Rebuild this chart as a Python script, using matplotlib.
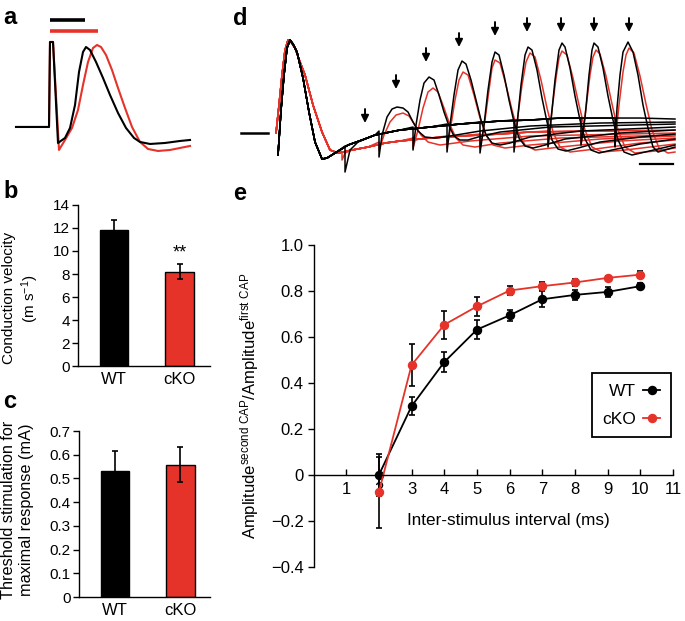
import matplotlib.pyplot as plt
from matplotlib.lines import Line2D

plt.rcParams['font.family'] = ['Liberation Sans', 'DejaVu Sans']
plt.rcParams['mathtext.default'] = 'regular'
plt.rcParams['axes.linewidth'] = 1.0

RED = '#e5332a'

# ---- panel a: single CAP traces (x: samples from stimulus, y: a.u.)
a_wt_x = [-33, 0, 1, 4, 9, 16, 21, 26, 30, 34, 37, 41, 47, 54, 61, 69, 77, 85, 91, 101, 116, 131, 141]
a_wt_y = [0, 0, 85, 85, -16, -11, -1, 22, 55, 75, 80, 77, 65, 49, 32, 14, -1, -11, -15, -17, -16, -14, -13]
a_ko_x = [-33, 0, 1, 4, 10, 16, 23, 29, 34, 39, 44, 48, 52, 57, 63, 69, 76, 83, 91, 99, 109, 121, 141]
a_ko_y = [0, 0, 85, 85, -23, -13, -1, 17, 42, 65, 79, 82, 80, 72, 57, 39, 19, 0, -15, -22, -24, -23, -19]
a_latency_wt = 36
a_latency_ko = 49

# ---- panel b / c
genotypes = ['WT', 'cKO']
velocity = [11.85, 8.2]
velocity_err = [0.85, 0.65]
threshold = [0.53, 0.558]
threshold_err = [0.085, 0.075]

# ---- panel d: paired-pulse traces (x: samples from first stimulus, y: a.u.)
d_stub_x = [-37, -10]
d_stub_y = [1, 1]
d_wt_first_x = [0, 3, 6, 9, 12, 15, 19, 25, 31, 37, 44, 49]
d_wt_first_y = [-21, 24, 59, 86, 94, 90, 82, 56, 22, -8, -25, -24]
d_wt_band_x = [57, 70, 84, 97, 107, 122, 152, 182, 222, 252, 282, 322, 362, 397]
d_wt_band_y = [-19, -11, -6, -1, 1, 4, 7, 10, 13, 14, 16, 16, 16, 15]
d_ko_first_x = [-2, 1, 4, 7, 10, 13, 17, 22, 27, 35, 44, 52, 60]
d_ko_first_y = [1, 29, 59, 84, 94, 92, 86, 72, 59, 29, 2, -16, -19]
d_ko_band_x = [74, 90, 107, 122, 152, 182, 222, 252, 322, 397]
d_ko_band_y = [-16, -13, -9, -7, -4, -2, 0, 2, 3, 4]

d_wt_resp_x = [
    [67, 67, 72, 80, 92],
    [101, 101, 104, 109, 114, 119, 125, 130, 135, 140, 147, 157, 172, 202, 252, 322, 397],
    [135, 135, 138, 142, 146, 151, 156, 161, 166, 171, 176, 182, 190, 200, 222, 272, 397],
    [169, 169, 172, 176, 180, 184, 188, 193, 198, 203, 208, 214, 222, 232, 252, 302, 397],
    [202, 202, 206, 210, 214, 217, 221, 226, 231, 236, 241, 247, 255, 267, 287, 342, 397],
    [236, 236, 239, 243, 247, 250, 254, 259, 264, 269, 274, 280, 288, 300, 322, 362, 397],
    [270, 270, 273, 277, 281, 284, 287, 292, 297, 302, 307, 313, 321, 334, 362, 397],
    [303, 303, 307, 311, 314, 316, 320, 325, 330, 335, 340, 346, 354, 367, 397],
    [337, 337, 339, 342, 345, 350, 355, 360, 365, 370, 375, 380, 387, 397],
]
d_wt_resp_y = [
    [-12, -38, -16, -8, -3],
    [3, -23, -1, 17, 25, 27, 26, 22, 12, 3, -3, -4, -2, 3, 8, 11, 12],
    [7, -16, 9, 34, 51, 57, 54, 39, 22, 8, -2, -6, -6, -3, 2, 7, 10],
    [10, -18, 9, 39, 64, 73, 70, 54, 34, 14, -1, -9, -11, -9, -3, 3, 7],
    [12, -19, 9, 44, 72, 82, 79, 59, 34, 12, -4, -12, -14, -11, -5, 1, 4],
    [14, -18, 9, 49, 79, 87, 84, 64, 36, 12, -6, -15, -17, -14, -8, -3, 0],
    [15, -13, 14, 54, 84, 91, 87, 66, 38, 14, -5, -16, -19, -16, -10, -5],
    [16, -11, 16, 59, 84, 91, 87, 66, 38, 14, -6, -18, -21, -18, -11],
    [16, -13, 26, 59, 82, 92, 82, 59, 29, 6, -13, -18, -16, -13],
]
d_ko_resp_x = [
    [64, 64, 67, 74],
    [101, 101, 106, 112, 118, 125, 131, 137, 143, 150, 162, 192, 252, 397],
    [135, 135, 140, 145, 150, 155, 160, 166, 172, 178, 185, 197, 222, 282, 397],
    [169, 169, 173, 177, 181, 185, 190, 196, 202, 208, 215, 227, 252, 322, 397],
    [202, 202, 207, 211, 214, 217, 222, 228, 234, 240, 247, 257, 282, 342, 397],
    [236, 236, 240, 244, 248, 252, 257, 263, 269, 275, 282, 292, 317, 362, 397],
    [270, 270, 274, 278, 281, 284, 289, 295, 301, 307, 314, 324, 347, 397],
    [303, 303, 308, 312, 315, 318, 322, 328, 334, 340, 347, 357, 377, 397],
    [337, 337, 341, 345, 348, 351, 356, 362, 368, 374, 381, 390, 397],
]
d_ko_resp_y = [
    [-18, -26, -19, -16],
    [-8, -16, -1, 12, 19, 21, 18, 9, -1, -8, -11, -7, -2, 1],
    [-4, -14, 4, 26, 42, 46, 42, 26, 9, -4, -11, -13, -9, -4, -1],
    [-2, -14, 9, 34, 54, 62, 59, 39, 16, -1, -11, -14, -11, -5, -2],
    [0, -14, 14, 44, 66, 74, 71, 49, 24, 2, -11, -16, -13, -7, -4],
    [2, -13, 19, 49, 72, 81, 77, 54, 26, 2, -13, -18, -15, -9, -6],
    [3, -12, 24, 56, 76, 83, 79, 56, 29, 4, -13, -18, -16, -10],
    [3, -11, 26, 59, 77, 84, 80, 58, 30, 4, -13, -19, -17, -14],
    [3, -11, 29, 62, 79, 86, 81, 58, 30, 4, -14, -19, -18],
]
d_arrow_x = [87, 118, 148, 181, 217, 249, 283, 316, 351]
d_arrow_tip = [11, 45, 72, 87, 98, 102, 102, 102, 102]

# ---- panel e
isi = [2, 3, 4, 5, 6, 7, 8, 9, 10]
wt_ratio = [0.0, 0.299, 0.491, 0.632, 0.694, 0.764, 0.783, 0.796, 0.821]
wt_err = [0.09, 0.04, 0.043, 0.04, 0.024, 0.034, 0.022, 0.02, 0.012]
ko_ratio = [-0.075, 0.478, 0.653, 0.733, 0.802, 0.821, 0.837, 0.857, 0.871]
ko_err = [0.155, 0.092, 0.06, 0.042, 0.02, 0.016, 0.015, 0.01, 0.015]


def build_trace(first_x, first_y, band_x, band_y, rx, ry):
    xs = list(first_x)
    ys = list(first_y)
    for bx, by in zip(band_x, band_y):
        if bx < rx[0]:
            xs.append(bx)
            ys.append(by)
    xs += rx
    ys += ry
    for bx, by in zip(band_x, band_y):
        if bx > rx[-1]:
            xs.append(bx)
            ys.append(by)
    return xs, ys


fig = plt.figure(figsize=(6.85, 6.21), dpi=100)

# panel a
ax = fig.add_axes([0.0146, 0.7424, 0.2774, 0.2415])
ax.plot(a_ko_x, a_ko_y, color=RED, lw=1.5)
ax.plot(a_wt_x, a_wt_y, color='k', lw=1.5)
ax.plot([1, a_latency_wt], [107, 107], color='k', lw=2.6, solid_capstyle='butt')
ax.plot([1, a_latency_ko], [96, 96], color=RED, lw=2.6, solid_capstyle='butt')
ax.set_xlim(-39, 151)
ax.set_ylim(-33, 117)
ax.axis('off')

# panel b
ax = fig.add_axes([0.1139, 0.4106, 0.1927, 0.2593])
ax.bar([1, 2], velocity, width=0.43, color=['k', RED], edgecolor='k', lw=1.0,
       yerr=velocity_err, capsize=2.2, error_kw=dict(elinewidth=1.2, capthick=1.2, ecolor='k'))
ax.text(2, 9.1, '**', ha='center', va='bottom', fontsize=13)
ax.set_xlim(0.45, 2.466)
ax.set_ylim(0, 14)
ax.set_yticks(range(0, 15, 2))
ax.set_xticks([1, 2])
ax.set_xticklabels(genotypes, fontsize=12)
ax.tick_params(axis='x', length=0, pad=4)
ax.tick_params(axis='y', length=4, width=1.0, labelsize=11, pad=2)
for s in ['top', 'right']:
    ax.spines[s].set_visible(False)
ax.text(-0.43, 0.42, 'Conduction velocity\n(m s$^{-1}$)', transform=ax.transAxes,
        rotation=90, ha='center', va='center', fontsize=11, multialignment='center')

# panel c
ax = fig.add_axes([0.1153, 0.0386, 0.1912, 0.2673])
ax.bar([1, 2], threshold, width=0.43, color=['k', RED], edgecolor='k', lw=1.0,
       yerr=threshold_err, capsize=2.2, error_kw=dict(elinewidth=1.2, capthick=1.2, ecolor='k'))
ax.set_xlim(0.45, 2.45)
ax.set_ylim(0, 0.7)
ax.set_yticks([0, 0.1, 0.2, 0.3, 0.4, 0.5, 0.6, 0.7])
ax.set_yticklabels(['0', '0.1', '0.2', '0.3', '0.4', '0.5', '0.6', '0.7'])
ax.set_xticks([1, 2])
ax.set_xticklabels(genotypes, fontsize=12)
ax.tick_params(axis='x', length=0, pad=4)
ax.tick_params(axis='y', length=4, width=1.0, labelsize=11, pad=2)
for s in ['top', 'right']:
    ax.spines[s].set_visible(False)
ax.text(-0.47, 0.525, 'Threshold stimulation for\nmaximal response (mA)', transform=ax.transAxes,
        rotation=90, ha='center', va='center', fontsize=11.7, multialignment='center')

# panel d
ax = fig.add_axes([0.3431, 0.7101, 0.6496, 0.2818])
for rx, ry in zip(d_ko_resp_x, d_ko_resp_y):
    xs, ys = build_trace(d_ko_first_x, d_ko_first_y, d_ko_band_x, d_ko_band_y, rx, ry)
    ax.plot(xs, ys, color=RED, lw=1.1)
ax.plot(d_stub_x, d_stub_y, color='k', lw=1.8)
for rx, ry in zip(d_wt_resp_x, d_wt_resp_y):
    xs, ys = build_trace(d_wt_first_x, d_wt_first_y, d_wt_band_x, d_wt_band_y, rx, ry)
    ax.plot(xs, ys, color='k', lw=1.1)
for x, tip in zip(d_arrow_x, d_arrow_tip):
    ax.annotate('', xy=(x, tip), xytext=(x, tip + 14),
                arrowprops=dict(arrowstyle='-|>', color='k', lw=1.4, mutation_scale=11,
                                shrinkA=0, shrinkB=0))
ax.plot([362, 395], [-30, -30], color='k', lw=1.6)
ax.set_xlim(-43, 402)
ax.set_ylim(-46, 129)
ax.axis('off')

# panel e
ax = fig.add_axes([0.4577, 0.0870, 0.5248, 0.5185])
ax.errorbar(isi, wt_ratio, yerr=wt_err, color='k', marker='o', ms=5.8, lw=1.3,
            capsize=2.2, elinewidth=1.2, capthick=1.2)
ax.errorbar(isi, ko_ratio, yerr=ko_err, color=RED, ecolor='k', marker='o', ms=5.8, lw=1.3,
            capsize=2.2, elinewidth=1.2, capthick=1.2)
ax.set_xlim(0, 11)
ax.set_ylim(-0.4, 1.0)
ax.spines['bottom'].set_position(('data', 0))
for s in ['top', 'right']:
    ax.spines[s].set_visible(False)
ax.set_xticks(range(1, 12))
ax.set_yticks([-0.4, -0.2, 0, 0.2, 0.4, 0.6, 0.8, 1.0])
ax.set_yticklabels(['\u22120.4', '\u22120.2', '0', '0.2', '0.4', '0.6', '0.8', '1.0'])
ax.tick_params(axis='x', direction='in', length=4, width=1.0, labelsize=12, pad=5)
ax.tick_params(axis='y', direction='out', length=4, width=1.0, labelsize=12, pad=3)
ax.text(5.95, -0.2, 'Inter-stimulus interval (ms)', ha='center', va='center', fontsize=12.3)
ax.text(-0.178, 0.5, 'Amplitude$^{second\\ CAP}$/Amplitude$^{first\\ CAP}$',
        transform=ax.transAxes, rotation=90, ha='center', va='center', fontsize=12)
handles = [Line2D([], [], color='k', marker='o', ms=5.8, lw=1.3),
           Line2D([], [], color=RED, marker='o', ms=5.8, lw=1.3)]
leg = ax.legend(handles, genotypes, loc='upper right', bbox_to_anchor=(0.994, 0.602),
                markerfirst=False, handlelength=1.0, handletextpad=0.4, fontsize=12.5,
                fancybox=False, framealpha=1, borderpad=0.6, labelspacing=0.75,
                borderaxespad=0)
leg.get_frame().set_edgecolor('k')
leg.get_frame().set_linewidth(1.3)

# panel letters
for lab, x, y in [('a', 3, 24), ('b', 3, 198), ('c', 3, 408), ('d', 233, 25), ('e', 233, 200)]:
    fig.text(x / 685, 1 - y / 621, lab, fontsize=17, fontweight='bold', va='baseline', ha='left')

fig.savefig('out.png', dpi=100)
